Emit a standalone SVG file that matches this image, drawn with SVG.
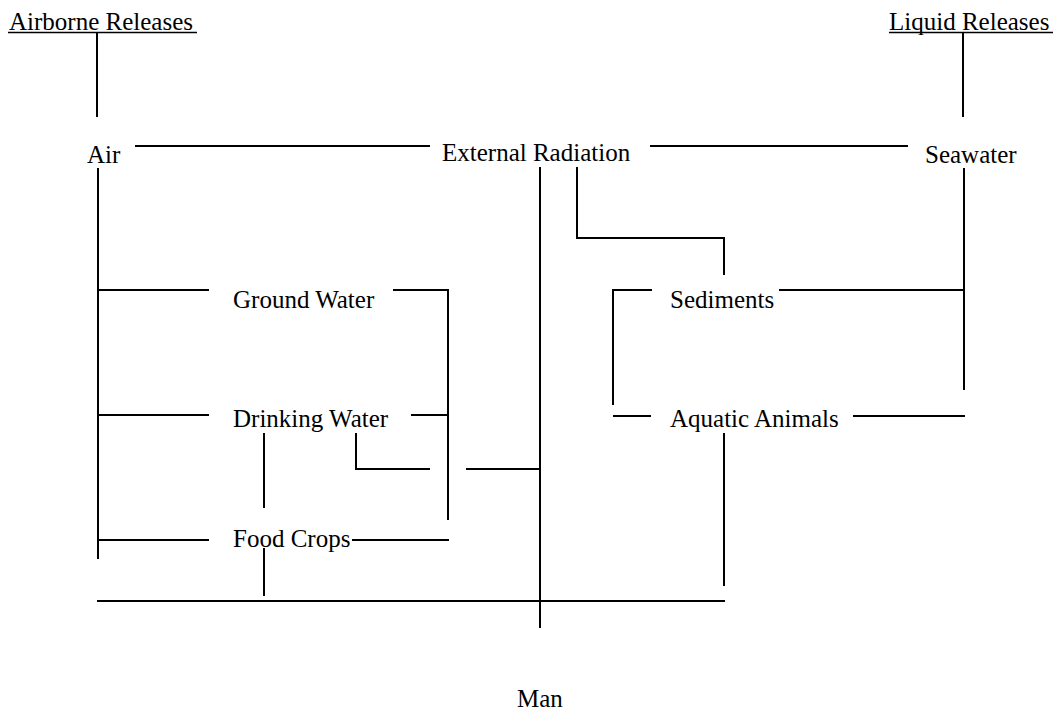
<svg xmlns="http://www.w3.org/2000/svg" width="1061" height="717" viewBox="0 0 1061 717">
<style>
text{font-family:"Liberation Serif","Times New Roman",serif;font-size:25px;fill:#000}
.c{fill:none;stroke:#000;stroke-width:2}
</style>
<rect width="1061" height="717" fill="#fff"/>
<g id="connectors" class="c">
<path d="M97 32V117"/>
<path d="M963 32V117"/>
<path d="M135 146H430"/>
<path d="M650 146H908"/>
<path d="M98 168V559"/>
<path d="M98 290H209"/>
<path d="M98 415H209"/>
<path d="M98 540H209"/>
<path d="M393 290H448V520"/>
<path d="M411 415H448"/>
<path d="M264 433V508"/>
<path d="M356 433V469H430"/>
<path d="M466 469H540"/>
<path d="M352 540H449"/>
<path d="M264 548V596"/>
<path d="M97 601H725"/>
<path d="M540 167V628"/>
<path d="M577 167V238H724V275"/>
<path d="M964 168V390"/>
<path d="M779 290H964"/>
<path d="M652 290H613V405"/>
<path d="M613 416H651"/>
<path d="M853 416H965"/>
<path d="M724 433V586"/>
</g>
<g id="airborne-releases"><text x="9" y="30">Airborne Releases</text><path class="c" d="M8 32.5H197" style="stroke-width:1.5"/></g>
<g id="liquid-releases"><text x="889" y="30">Liquid Releases</text><path class="c" d="M889 32.5H1053" style="stroke-width:1.5"/></g>
<g id="air"><text x="87" y="163">Air</text></g>
<g id="external-radiation"><text x="442" y="161">External Radiation</text></g>
<g id="seawater"><text x="925" y="163">Seawater</text></g>
<g id="ground-water"><text x="233" y="308">Ground Water</text></g>
<g id="sediments"><text x="670" y="308">Sediments</text></g>
<g id="drinking-water"><text x="233" y="427">Drinking Water</text></g>
<g id="aquatic-animals"><text x="670" y="427">Aquatic Animals</text></g>
<g id="food-crops"><text x="233" y="547">Food Crops</text></g>
<g id="man"><text x="517" y="707">Man</text></g>
</svg>
